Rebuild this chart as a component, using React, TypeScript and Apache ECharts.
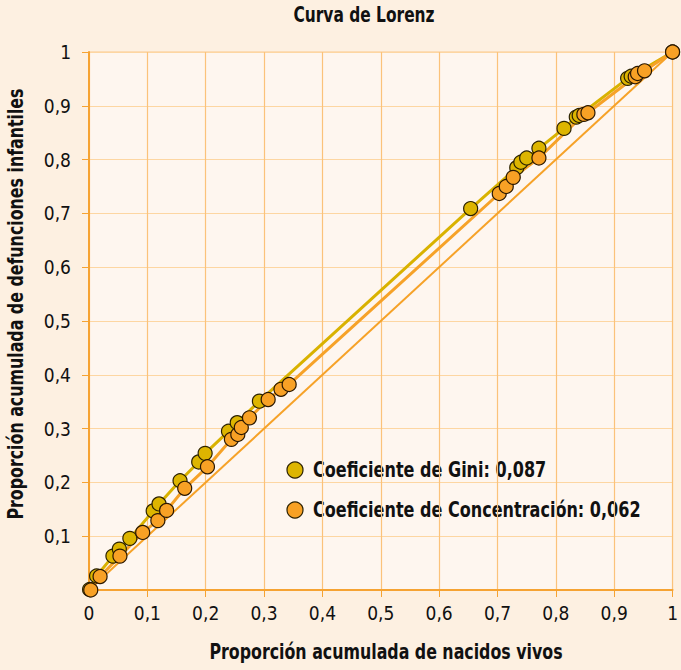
import React, { useEffect, useRef } from "react";
import * as echarts from "echarts";

const giniX = [0.001, 0.013, 0.041, 0.052, 0.07, 0.11, 0.12, 0.156, 0.188, 0.199, 0.239, 0.254, 0.292, 0.654, 0.733, 0.74, 0.75, 0.771, 0.814, 0.835, 0.84, 0.923, 0.929, 1];
const giniY = [0.001, 0.026, 0.063, 0.076, 0.096, 0.147, 0.16, 0.203, 0.238, 0.254, 0.295, 0.311, 0.351, 0.709, 0.785, 0.795, 0.803, 0.821, 0.858, 0.879, 0.882, 0.951, 0.955, 1];
const concX = [0.003, 0.019, 0.053, 0.092, 0.118, 0.133, 0.164, 0.203, 0.244, 0.255, 0.261, 0.275, 0.307, 0.329, 0.343, 0.703, 0.715, 0.727, 0.771, 0.848, 0.855, 0.936, 0.94, 0.952, 1];
const concY = [0.0, 0.025, 0.063, 0.107, 0.129, 0.148, 0.189, 0.229, 0.28, 0.289, 0.302, 0.32, 0.354, 0.373, 0.382, 0.737, 0.75, 0.767, 0.803, 0.884, 0.887, 0.954, 0.96, 0.965, 1];
const equalityX = [0, 1];
const equalityY = [0, 1];
const tickLabels = ["0", "0,1", "0,2", "0,3", "0,4", "0,5", "0,6", "0,7", "0,8", "0,9", "1"];

const giniName = "Coeficiente de Gini: 0,087";
const concName = "Coeficiente de Concentración: 0,062";
const titleText = "Curva de Lorenz";
const xTitle = "Proporción acumulada de nacidos vivos";
const yTitle = "Proporción acumulada de defunciones infantiles";

const GINI_COLOR = "#DDB500";
const CONC_COLOR = "#F8A125";

const FONT = "'DejaVu Sans Condensed', 'DejaVu Sans', sans-serif";

const zip = (xs: number[], ys: number[]) => xs.map((x, i) => [x, ys[i]]);
const fmt = (v: number) => tickLabels[Math.round(v * 10)] ?? "";

const boldText = (text: string, fontSize: number) => ({
  text,
  textAlign: "center",
  textVerticalAlign: "middle",
  fontSize,
  fontWeight: "bold",
  fill: "#111",
  fontFamily: FONT,
});

export default function App() {
  const ref = useRef<HTMLDivElement>(null);
  useEffect(() => {
    if (!ref.current) return;
    const chart = echarts.init(ref.current, null, { renderer: "svg" });
    const axisCommon = {
      type: "value",
      min: 0,
      max: 1,
      interval: 0.1,
      axisLine: { show: true, lineStyle: { color: "#F6A332", width: 2 } },
      axisTick: { show: true, length: 7, lineStyle: { color: "#F6A332", width: 1 } },
    };
    const legendItem = (name: string, color: string, y: number) => ({
      type: "group",
      x: 295,
      y,
      children: [
        { type: "circle", shape: { cx: 0, cy: 0, r: 8 }, style: { fill: color, stroke: "#2B2000", lineWidth: 1.2 } },
        { type: "text", x: 18, y: 0, scaleX: 0.85, style: { ...boldText(name, 21), textAlign: "left" } },
      ],
    });
    chart.setOption({
      animation: false,
      backgroundColor: "#FDF0E1",
      textStyle: { fontFamily: FONT },
      grid: { left: 89, right: 6, top: 52, bottom: 80, show: true, backgroundColor: "#FEF6EF", borderColor: "#FBC98A", borderWidth: 1 },
      xAxis: {
        ...axisCommon,
        axisLabel: { formatter: fmt, color: "#111", fontSize: 19, margin: 13, fontFamily: FONT },
        splitLine: { show: true, lineStyle: { color: "#FBC27A", width: 1.2 } },
      },
      yAxis: {
        ...axisCommon,
        axisLabel: { formatter: fmt, showMinLabel: false, color: "#111", fontSize: 19, margin: 18, fontFamily: FONT },
        splitLine: { show: true, lineStyle: { color: "#FDD6A2", width: 1.2 } },
      },
      graphic: [
        { type: "text", x: 364, y: 15, scaleX: 0.78, style: boldText(titleText, 22) },
        { type: "text", x: 386, y: 652, scaleX: 0.8, style: boldText(xTitle, 22) },
        { type: "text", x: 16, y: 304, rotation: Math.PI / 2, scaleX: 0.8, style: boldText(yTitle, 22) },
        legendItem(giniName, GINI_COLOR, 470),
        legendItem(concName, CONC_COLOR, 510),
      ],
      series: [
        { type: "line", data: zip(equalityX, equalityY), showSymbol: false, symbol: "none", lineStyle: { color: "#F6A228", width: 2 }, z: 1, silent: true },
        { type: "line", data: zip(giniX, giniY), showSymbol: false, symbol: "none", lineStyle: { color: "#D9B200", width: 3 }, z: 2, silent: true },
        { type: "line", data: zip(concX, concY), showSymbol: false, symbol: "none", lineStyle: { color: "#F6A228", width: 3 }, z: 2, silent: true },
        { name: giniName, type: "scatter", data: zip(giniX, giniY), symbolSize: 14, itemStyle: { color: GINI_COLOR, borderColor: "#2B2200", borderWidth: 1.2, opacity: 1 }, z: 3 },
        { name: concName, type: "scatter", data: zip(concX, concY), symbolSize: 14, itemStyle: { color: CONC_COLOR, borderColor: "#2B1800", borderWidth: 1.2, opacity: 1 }, z: 4 },
      ],
    });
    return () => chart.dispose();
  }, []);
  return <div ref={ref} style={{ width: 681, height: 670, position: "absolute", left: 0, top: 0 }} />;
}
